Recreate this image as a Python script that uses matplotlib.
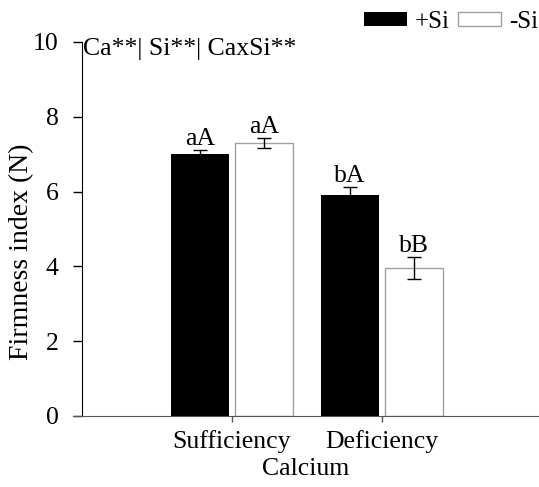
import numpy as np
import matplotlib
matplotlib.use("Agg")
from matplotlib import pyplot as plt

plt.rcParams['font.family'] = ['Liberation Serif', 'DejaVu Serif']
plt.rcParams['font.size'] = 18.5

categories = ["Sufficiency", "Deficiency"]
plus_si = [7.0, 5.92]
plus_si_err = [0.1, 0.2]
minus_si = [7.3, 3.95]
minus_si_err = [0.13, 0.3]
plus_labels = ["aA", "bA"]
minus_labels = ["aA", "bB"]

fig = plt.figure(figsize=(5.39, 4.87), dpi=100)
ax = fig.add_axes([73 / 539, 71 / 487, 466 / 539, 374 / 487])

x = np.arange(len(categories))
w = 0.387
off = 0.212

b1 = ax.bar(x - off, plus_si, w, color='black', edgecolor='none', label='+Si', zorder=2)
b2 = ax.bar(x + off, minus_si, w, color='white', edgecolor='#a0a0a0', linewidth=1, label='-Si', zorder=2)
ax.errorbar(x - off, plus_si, yerr=plus_si_err, fmt='none', ecolor='black', elinewidth=1, capsize=5, capthick=1, zorder=3)
ax.errorbar(x + off, minus_si, yerr=minus_si_err, fmt='none', ecolor='black', elinewidth=1, capsize=5, capthick=1, zorder=3)

for xi, v, e, t in zip(x - off, plus_si, plus_si_err, plus_labels):
    ax.text(xi, v + e, t, ha='center', va='bottom')
for xi, v, e, t in zip(x + off, minus_si, minus_si_err, minus_labels):
    ax.text(xi, v + e, t, ha='center', va='bottom')

ax.set_xlim(-1.06, 2.047)
ax.set_ylim(0, 10)
ax.set_yticks([0, 2, 4, 6, 8, 10])
ax.set_xticks(x)
ax.set_xticklabels(categories)
ax.set_xlabel("Calcium", labelpad=3.5)
ax.set_ylabel("Firmness index (N)", fontsize=20)
ax.yaxis.set_label_coords(-0.084, 0.44)

for s in ['top', 'right']:
    ax.spines[s].set_visible(False)
ax.spines['left'].set_position(('axes', 9 / 466))
ax.spines['bottom'].set_color('#555555')
ax.tick_params(axis='y', direction='out', length=6.5, width=1, pad=10.5)
ax.tick_params(axis='x', direction='out', length=4, width=1, color='#555555', pad=6)

ax.text(0.022, 1.012, "Ca**| Si**| CaxSi**", transform=ax.transAxes, ha='left', va='top')

fig.legend(handles=[b1, b2], loc='upper right', bbox_to_anchor=(538 / 539, 1 - 11 / 487), ncol=2, frameon=False,
           fontsize=18, handlelength=1.72, handleheight=0.48, handletextpad=0.3, columnspacing=0.36,
           borderaxespad=0, borderpad=0)

fig.savefig("out.png", dpi=100)
